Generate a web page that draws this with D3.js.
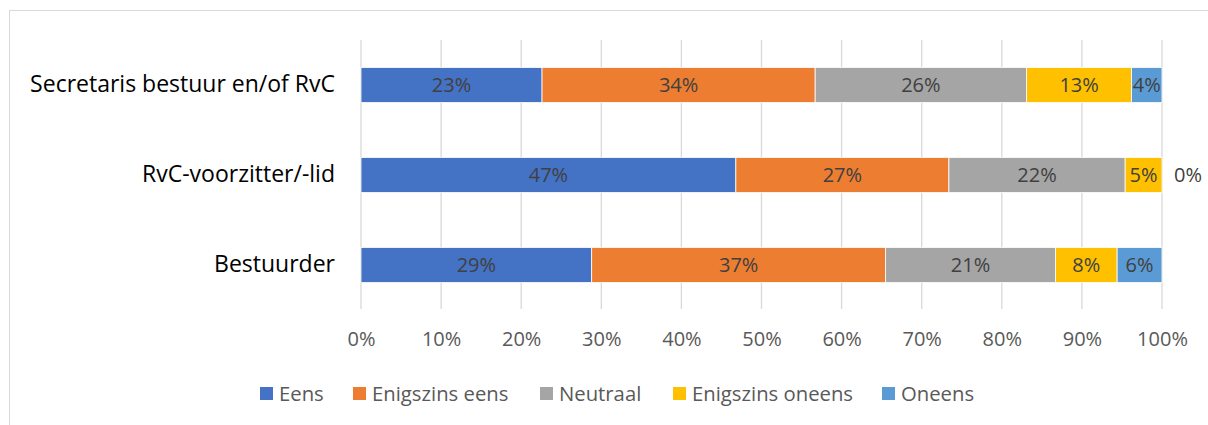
<!DOCTYPE html>
<html>
<head>
<meta charset="utf-8">
<script src="https://cdn.jsdelivr.net/npm/d3@7"></script>
<style>
  body { margin: 0; background: #fff; }
  svg text { font-family: "Open Sans", sans-serif; }
</style>
</head>
<body>
<div id="chart"></div>
<script>
// data (percent of respondents)
const categories = ["Secretaris bestuur en/of RvC", "RvC-voorzitter/-lid", "Bestuurder"];
const seriesNames = ["Eens", "Enigszins eens", "Neutraal", "Enigszins oneens", "Oneens"];
const eens = [22.6, 46.8, 28.8];
const enigszinsEens = [34.1, 26.6, 36.7];
const neutraal = [26.4, 22.0, 21.2];
const enigszinsOneens = [13.1, 4.6, 7.7];
const oneens = [3.8, 0, 5.6];
const xTicks = [0, 10, 20, 30, 40, 50, 60, 70, 80, 90, 100];

const colors = ["#4472C4", "#ED7D31", "#A5A5A5", "#FFC000", "#5B9BD5"];

const width = 1208;
const height = 425;
const margin = {left: 361, right: 46, top: 40, bottom: 116};

// build table for the stack
const allSeries = [eens, enigszinsEens, neutraal, enigszinsOneens, oneens];
const table = categories.map((c, i) => {
  let row = {cat: c};
  seriesNames.forEach((s, j) => { row[s] = allSeries[j][i]; });
  return row;
});

const stacked = d3.stack().keys(seriesNames)(table);

let svg = d3.select("#chart")
  .append("svg")
  .attr("width", width)
  .attr("height", height);

// chart frame
svg.append("rect")
  .attr("x", 9.5).attr("y", 10.5)
  .attr("width", 1210).attr("height", 430)
  .attr("fill", "none")
  .attr("stroke", "#D9D9D9");

let xScale = d3.scaleLinear()
  .domain([0, 100])
  .range([margin.left, width - margin.right]);

let yScale = d3.scaleBand()
  .domain(categories)
  .range([margin.top, height - margin.bottom + 1])
  .paddingInner(0.61)
  .paddingOuter(0.305);

// gridlines
svg.append("g")
  .selectAll("line")
  .data(xTicks)
  .enter()
  .append("line")
    .attr("x1", d => xScale(d))
    .attr("x2", d => xScale(d))
    .attr("y1", margin.top)
    .attr("y2", height - margin.bottom)
    .attr("stroke", "#D9D9D9")
    .attr("stroke-width", 1.3);

// x axis labels
let xAxis = svg.append("g")
  .attr("transform", `translate(0,${height - margin.bottom})`)
  .call(d3.axisBottom(xScale).tickValues(xTicks).tickSize(0).tickPadding(23).tickFormat(d => d + "%"));
xAxis.select(".domain").remove();
xAxis.selectAll("text")
  .attr("font-size", "20px")
  .attr("fill", "#595959")
  .attr("font-family", "Open Sans, sans-serif");

// y axis labels
let yAxis = svg.append("g")
  .attr("transform", `translate(${margin.left},0)`)
  .call(d3.axisLeft(yScale).tickSize(0).tickPadding(26));
yAxis.select(".domain").remove();
yAxis.selectAll("text")
  .attr("font-size", "23px")
  .attr("fill", "#000")
  .attr("font-family", "Open Sans, sans-serif");

// bars
let groups = svg.append("g")
  .selectAll("g")
  .data(stacked)
  .enter()
  .append("g")
    .attr("fill", (d, i) => colors[i]);

groups.selectAll("rect")
  .data(d => d)
  .enter()
  .append("rect")
    .attr("x", d => xScale(d[0]))
    .attr("y", d => yScale(d.data.cat))
    .attr("width", d => xScale(d[1]) - xScale(d[0]))
    .attr("height", yScale.bandwidth())
    .attr("stroke", "#fff")
    .attr("stroke-width", 0.8);

// data labels
groups.selectAll("text")
  .data(d => d)
  .enter()
  .append("text")
    .attr("x", d => (d[1] - d[0]) > 0 ? xScale((d[0] + d[1]) / 2) : xScale(d[1]) + 12)
    .attr("y", d => yScale(d.data.cat) + yScale.bandwidth() / 2)
    .attr("dy", "0.35em")
    .attr("text-anchor", d => (d[1] - d[0]) > 0 ? "middle" : "start")
    .attr("font-size", "20px")
    .attr("fill", "#404040")
    .text(d => Math.round(d[1] - d[0]) + "%");

// legend
const legendX = [260, 353, 540, 673, 882];
let legend = svg.append("g")
  .selectAll("g")
  .data(seriesNames)
  .enter()
  .append("g")
    .attr("transform", (d, i) => `translate(${legendX[i]},387)`);

legend.append("rect")
  .attr("width", 13)
  .attr("height", 13)
  .attr("fill", (d, i) => colors[i]);

legend.append("text")
  .attr("x", 19)
  .attr("y", 6.5)
  .attr("dy", "0.35em")
  .attr("font-size", "20.3px")
  .attr("fill", "#595959")
  .text(d => d);
</script>
</body>
</html>
